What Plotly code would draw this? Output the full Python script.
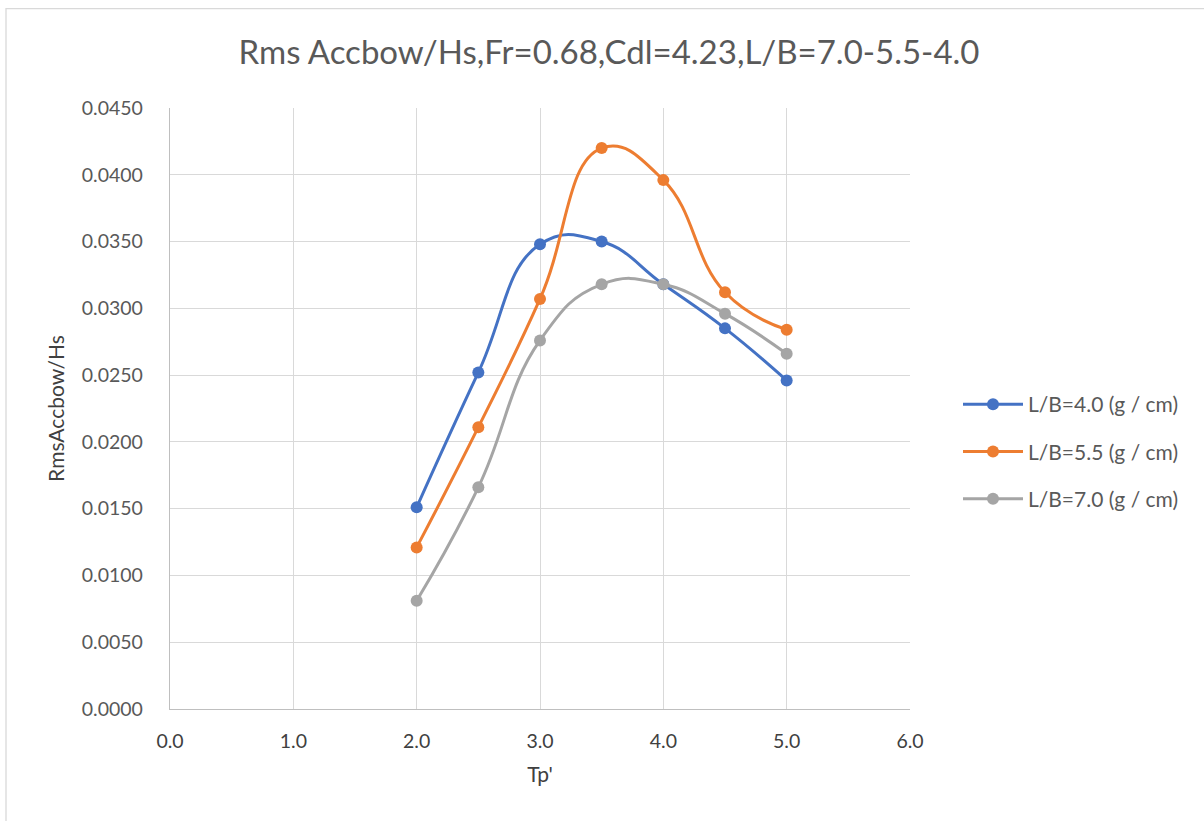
import plotly.graph_objects as go

# Peak period (non-dimensional) and RMS bow acceleration over Hs
tp = [2.0, 2.5, 3.0, 3.5, 4.0, 4.5, 5.0]
lb_40 = [0.0151, 0.0252, 0.0348, 0.0350, 0.0318, 0.0285, 0.0246]
lb_55 = [0.0121, 0.0211, 0.0307, 0.0420, 0.0396, 0.0312, 0.0284]
lb_70 = [0.0081, 0.0166, 0.0276, 0.0318, 0.0318, 0.0296, 0.0266]

series_names = ["L/B=4.0 (g / cm)", "L/B=5.5 (g / cm)", "L/B=7.0 (g / cm)"]
series_colors = ["#4472C4", "#ED7D31", "#A5A5A5"]

x_ticks = [0, 1, 2, 3, 4, 5, 6]
y_ticks = [0.0, 0.005, 0.010, 0.015, 0.020, 0.025, 0.030, 0.035, 0.040, 0.045]

FONT = "Lato, 'Open Sans', sans-serif"

fig = go.Figure()
for i, (name, ys, col) in enumerate(zip(series_names, [lb_40, lb_55, lb_70], series_colors)):
    fig.add_trace(go.Scatter(
        x=tp, y=ys, name=name, mode="lines+markers", legendgroup=f"g{i}",
        line=dict(color=col, width=3, shape="spline", smoothing=1.3),
        marker=dict(color=col, size=12),
    ))

W, H = 1204, 821
L, R, T, B = 170, 294, 107.5, 111.5
pw, ph = W - L - R, H - T - B

# outer chart frame
fig.add_shape(type="rect", xref="paper", yref="paper",
              x0=(6 - L) / pw, x1=(W + 20 - L) / pw,
              y0=-(H + 20 - T - ph) / ph, y1=1 + (T - 8) / ph,
              line=dict(color="#d9d9d9", width=1.3), layer="below")

fig.update_layout(
    width=W, height=H,
    margin=dict(l=L, r=R, t=T, b=B),
    paper_bgcolor="white", plot_bgcolor="white",
    font=dict(family=FONT, color="#595959", size=19),
    title=dict(text="Rms Accbow/Hs,Fr=0.68,Cdl=4.23,L/B=7.0-5.5-4.0",
               x=609 / W, xanchor="center", xref="container",
               y=1 - 52 / H, yanchor="middle",
               font=dict(family=FONT, size=33, color="#595959")),
    showlegend=True,
    legend=dict(x=(958 - L) / pw, xanchor="left", y=1 - (384 - T) / ph, yanchor="top",
                font=dict(family=FONT, size=21, color="#595959"),
                itemwidth=60, tracegroupgap=17, bgcolor="rgba(0,0,0,0)"),
)
fig.update_xaxes(
    range=[0, 6], tickvals=x_ticks, ticktext=[f"{v:.1f}" for v in x_ticks],
    showgrid=True, gridcolor="#d9d9d9", gridwidth=1.3,
    showline=True, linecolor="#bfbfbf", linewidth=1.3,
    zeroline=False, ticks="", ticklabelstandoff=14,
    tickfont=dict(family=FONT, size=19.5, color="#404040"),
    title=dict(text="Tp'", font=dict(family=FONT, size=21, color="#404040"), standoff=16),
)
fig.update_yaxes(
    range=[0, 0.045], tickvals=y_ticks, ticktext=[f"{v:.4f}" for v in y_ticks],
    showgrid=True, gridcolor="#d9d9d9", gridwidth=1.3,
    showline=True, linecolor="#bfbfbf", linewidth=1.3,
    zeroline=False, ticks="", ticklabelstandoff=22,
    tickfont=dict(family=FONT, size=19.5, color="#595959"),
    title=dict(text="RmsAccbow/Hs", font=dict(family=FONT, size=21, color="#404040"), standoff=11),
)

fig.write_html("out.html")
